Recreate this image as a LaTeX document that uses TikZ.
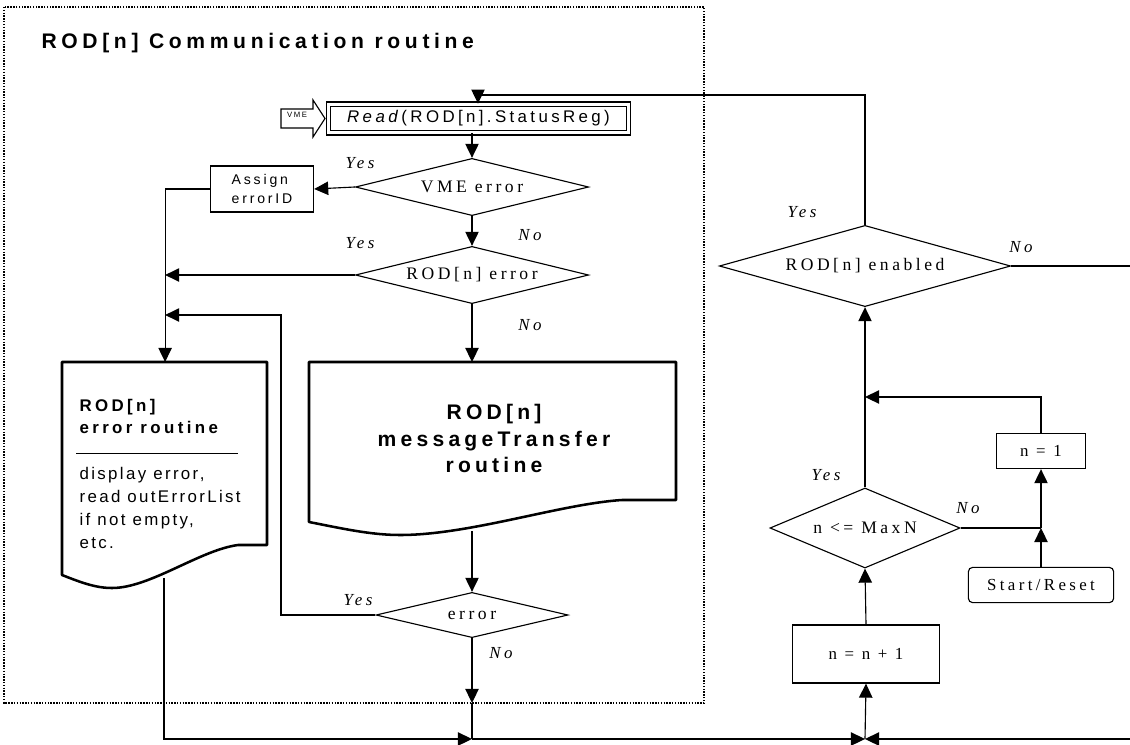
\documentclass[tikz,border=0pt]{standalone}
\usepackage{fontspec}
\setmainfont{Liberation Serif}
\setsansfont{Liberation Sans}
\newfontfamily\rmsp[LetterSpace=20]{Liberation Serif}
\newfontfamily\sfsp[LetterSpace=20]{Liberation Sans}
\newfontfamily\sfbody[LetterSpace=14]{Liberation Sans}
\usetikzlibrary{positioning, shapes.geometric, arrows.meta}

\begin{document}
\begin{tikzpicture}[x=0.025cm, y=-0.025cm, line width=0.8pt,
    arr/.style={-{Triangle[length=10pt,width=9.5pt]}},
    dec/.style={draw, diamond, inner sep=1pt, font=\rmsp\fontsize{12.5}{14}\selectfont},
    box/.style={draw, rectangle, inner sep=2pt, font=\rmsp\fontsize{12}{14}\selectfont},
    lbl/.style={font=\rmsp\itshape\fontsize{12}{14}\selectfont, inner sep=0pt},
    doc/.style={line width=1.8pt, line join=round}]
			\useasboundingbox (0,0) rectangle (1130,744);
			%Routine frame
			\draw[densely dotted, line width=1pt] (4,7) rectangle (704,703);
			\node[anchor=west, inner sep=0pt, font=\sfsp\addfontfeature{LetterSpace=22}\bfseries\fontsize{15}{17}\selectfont] (title) at (41,43) {ROD[n] Communication routine};
			%Read status
			\node[draw, double, line width=0.75pt, double distance=2.2pt, minimum width=7.5cm, minimum height=0.72cm, font=\sfsp\fontsize{12}{14}\selectfont] (read) at (478.5,118.5) {\textit{Read}(ROD[n].StatusReg)};
			\draw (281,109) -- (313,109) -- (313,100) -- (325,118.5) -- (313,137) -- (313,128) -- (281,128) -- cycle;
			\node[inner sep=0pt, font=\sfsp\fontsize{5.5}{6}\selectfont] (vme) at (297,115) {VME};
			%Decisions
			\node[dec, aspect=4, minimum width=5.83cm, minimum height=1.43cm] (vmeerr) at (472,187) {VME error};
			\node[dec, aspect=4, minimum width=5.83cm, minimum height=1.43cm] (roderr) at (472,275) {ROD[n] error};
			\node[dec, aspect=4.2, minimum width=4.8cm, minimum height=1.13cm] (err) at (472,615) {error};
			\node[box, minimum width=2.58cm, minimum height=1.15cm, align=left, font=\sfsp\fontsize{10}{13}\selectfont] (assign) at (262,189) {Assign\\errorID};
			%Error routine
			\node[anchor=north west, inner sep=0pt, minimum width=5.125cm, minimum height=4.55cm] (errrt) at (62,362) {};
			\draw[doc] (62,362) -- (267,362) -- (267,545) -- (238,545) .. controls (200,550) and (150,588) .. (112,588) .. controls (95,588) and (80,582) .. (62,575) -- cycle;
			\node[anchor=west, align=left, inner sep=0pt, font=\sfsp\bfseries\fontsize{12}{15.6}\selectfont] (errhead) at (79,416) {ROD[n]\\error routine};
			\draw[line width=0.6pt] (76,453) -- (238,453);
			\node[anchor=west, align=left, inner sep=0pt, font=\sfbody\fontsize{12}{16.4}\selectfont] (errbody) at (79,508) {display error,\\read outErrorList\\if not empty,\\etc.};
			\coordinate (errout) at (164,578);
			%messageTransfer
			\node[anchor=north, minimum width=9.15cm, minimum height=3.8cm, inner sep=0pt, align=center, font=\sfsp\bfseries\fontsize{15}{18.8}\selectfont] (mt) at (494,362) {ROD[n]\\messageTransfer\\routine};
			\draw[doc] (309,362) -- (676,362) -- (676,500) -- (622,500) .. controls (560,504) and (470,535) .. (400,535) .. controls (370,535) and (340,528) .. (309,522) -- cycle;
			\coordinate (mtout) at (472,531);
			%Main loop
			\node[dec, aspect=3.6, minimum width=7.28cm, minimum height=2.03cm] (roden) at (865,266) {ROD[n] enabled};
			\node[dec, aspect=2.4, minimum width=4.75cm, minimum height=2cm] (maxn) at (865,528) {n <= MaxN};
			\node[box, minimum width=3.68cm, minimum height=1.45cm] (inc) at (866,654) {n = n + 1};
			\node[box, minimum width=2.23cm, minimum height=0.88cm] (init) at (1041,451) {n = 1};
			\node[box, rounded corners=3pt, minimum width=3.63cm, minimum height=0.88cm] (start) at (1041,585) {Start/Reset};
			%Junctions
			\coordinate (toploop) at (478,95);
			\coordinate (loopc) at (281,315);
			\coordinate (exitR) at (472,703);
			\coordinate (jnL) at (472,739);
			\coordinate (jnR) at (865,739);
			\coordinate (edgeB) at (1130,739);
			\coordinate (edgeN) at (1130,266);
			\coordinate (jnS) at (1041,528);
			\coordinate (jnN) at (865,397);
			%Connectors
			\draw[arr] (roden.north) |- (toploop) -- (toploop |- read.north);
			\draw[arr] (read.south -| vmeerr.north) -- (vmeerr.north);
			\draw[arr] (vmeerr.west) -- (assign.east);
			\draw[arr] (assign.west) -| (errrt.north);
			\draw[arr] (vmeerr.south) -- (roderr.north);
			\draw[arr] (roderr.west) -- (roderr.west -| errrt.north);
			\draw[arr] (roderr.south) -- (roderr.south |- mt.north);
			\draw[arr] (mtout) -- (err.north);
			\draw[arr] (err.west) -| (loopc) -- (loopc -| errrt.north);
			\draw[arr] (err.south) -- (exitR);
			\draw (exitR) -- (jnL);
			\draw[arr] (errout) |- (jnL);
			\draw[arr] (jnL) -- (jnR);
			\draw[arr] (edgeB) -- (jnR);
			\draw[arr] (jnR) -- (inc.south);
			\draw[arr] (inc.north) -- (maxn.south);
			\draw[arr] (maxn.north) -- (roden.south);
			\draw (maxn.east) -- (jnS);
			\draw[arr] (start.north) -- (jnS);
			\draw[arr] (jnS) -- (init.south);
			\draw[arr] (init.north) |- (jnN);
			\draw (roden.east) -- (edgeN);
			%Labels
			\node[lbl] at (360,163) {Yes};
			\node[lbl] at (360,243) {Yes};
			\node[lbl] at (530,235) {No};
			\node[lbl] at (530,325) {No};
			\node[lbl] at (358,600) {Yes};
			\node[lbl] at (501,653) {No};
			\node[lbl] at (802,212) {Yes};
			\node[lbl] at (1021,247) {No};
			\node[lbl] at (826,475) {Yes};
			\node[lbl] at (968,508) {No};
		\end{tikzpicture}
\end{document}
